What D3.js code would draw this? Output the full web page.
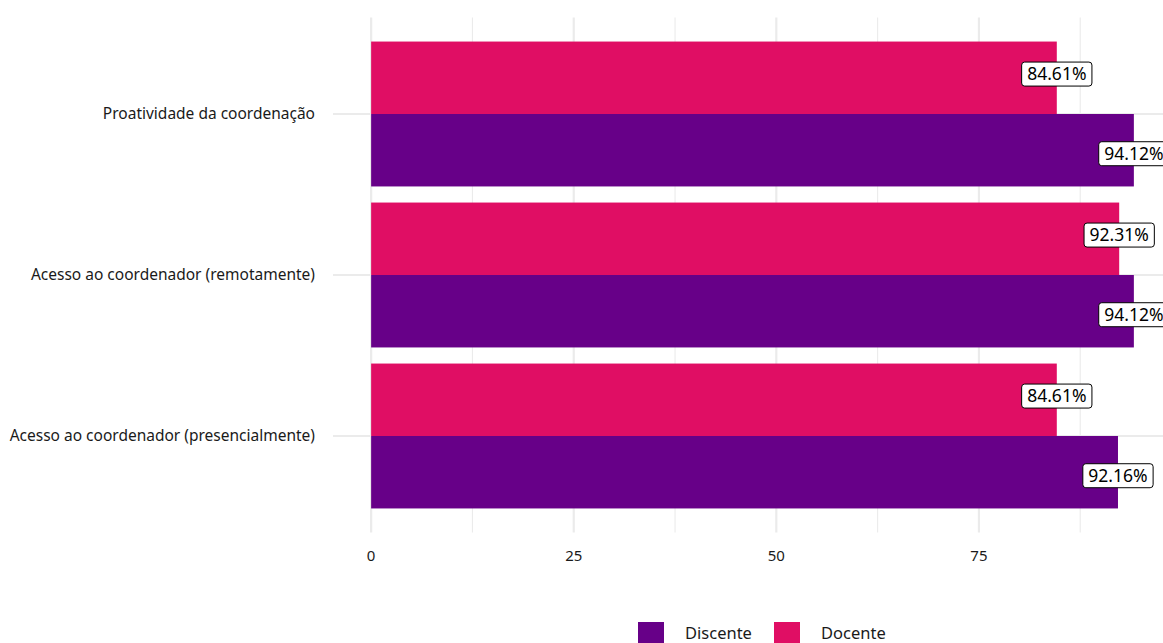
<!DOCTYPE html>
<html><head><meta charset="utf-8">
<script src="https://cdn.jsdelivr.net/npm/d3@7"></script>
<style>body{margin:0;background:#fff;} svg{display:block;font-family:"Noto Sans",sans-serif;}</style>
</head><body>
<script>
const categories = ["Proatividade da coordenação","Acesso ao coordenador (remotamente)","Acesso ao coordenador (presencialmente)"];
const seriesNames = ["Docente","Discente"];
const docente = [84.61, 92.31, 84.61];
const discente = [94.12, 94.12, 92.16];
const xTicks = [0,25,50,75];
const xMinor = [12.5,37.5,62.5,87.5];
const legendNames = ["Discente","Docente"];
const colors = {Discente:"#670088", Docente:"#E00E64"};

const W=1163,H=643;
const svg=d3.select("body").append("svg").attr("width",W).attr("height",H);
const panel={left:333,right:1172,top:17.4,bottom:532.6};
const x=d3.scaleLinear().domain([-4.706,98.826]).range([panel.left,panel.right]);
// ggplot discrete expansion: 0.6 units each side
const y=d3.scalePoint().domain(categories).range([panel.top,panel.bottom]).padding(0.6/ 1 * 1);
const step=(panel.bottom-panel.top)/3.2;
const yc=c=>panel.top+step*(0.6+categories.indexOf(c));
const barH=step*0.45;

const g=svg.append("g");
// grid
g.selectAll(".minor").data(xMinor).join("line").attr("x1",d=>x(d)).attr("x2",d=>x(d)).attr("y1",panel.top).attr("y2",panel.bottom).attr("stroke","#ebebeb").attr("stroke-width",1.1);
g.selectAll(".major").data(xTicks).join("line").attr("x1",d=>x(d)).attr("x2",d=>x(d)).attr("y1",panel.top).attr("y2",panel.bottom).attr("stroke","#ebebeb").attr("stroke-width",2.2);
g.selectAll(".hmaj").data(categories).join("line").attr("x1",panel.left).attr("x2",panel.right).attr("y1",d=>yc(d)).attr("y2",d=>yc(d)).attr("stroke","#ebebeb").attr("stroke-width",2.2);

const rows=[];
categories.forEach((c,i)=>{
  rows.push({cat:c,series:"Docente",v:docente[i],off:-1});
  rows.push({cat:c,series:"Discente",v:discente[i],off:0});
});
g.selectAll("rect.bar").data(rows).join("rect").attr("class","bar")
  .attr("x",x(0)).attr("width",d=>x(d.v)-x(0))
  .attr("y",d=>yc(d.cat)+d.off*barH).attr("height",barH)
  .attr("fill",d=>colors[d.series]);

// labels
const lab=g.selectAll("g.lab").data(rows).join("g").attr("class","lab")
  .attr("transform",d=>`translate(${x(d.v)},${yc(d.cat)+(d.off<0?-barH/2-3.7:barH/2+3.5)})`);
lab.append("text").text(d=>d.v.toFixed(2)+"%").attr("text-anchor","middle").attr("dy","0.36em").attr("font-size",17.5).attr("fill","#000");
lab.each(function(){
  const t=d3.select(this).select("text");const b=t.node().getBBox();
  d3.select(this).insert("rect","text").attr("x",b.x-5.5).attr("width",b.width+11).attr("y",-12).attr("height",24).attr("rx",3).attr("fill","#fff").attr("stroke","#000").attr("stroke-width",1);
});

// y-axis labels
g.selectAll("text.ylab").data(categories).join("text").attr("class","ylab")
  .attr("x",315).attr("y",d=>yc(d)).attr("dy","0.35em").attr("text-anchor","end").attr("font-size",15.5).attr("fill","#1a1a1a").text(d=>d);
// x-axis labels
g.selectAll("text.xlab").data(xTicks).join("text").attr("class","xlab")
  .attr("x",d=>x(d)).attr("y",556).attr("dy","0.35em").attr("text-anchor","middle").attr("font-size",15).attr("fill","#1a1a1a").text(d=>d);

// legend
const leg=svg.append("g");
const lx=[638,774];
legendNames.forEach((n,i)=>{
  leg.append("rect").attr("x",lx[i]).attr("y",622).attr("width",26).attr("height",26).attr("fill",colors[n]);
  leg.append("text").attr("x",lx[i]+47).attr("y",639).attr("font-size",16.5).attr("fill","#1a1a1a").text(n);
});
</script>
</body></html>
